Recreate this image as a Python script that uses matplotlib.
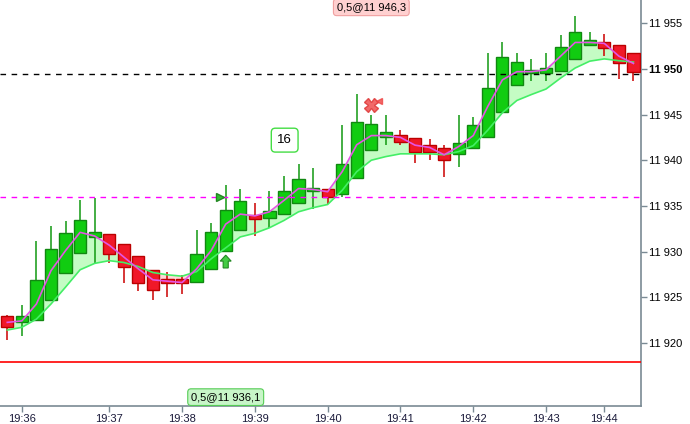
import matplotlib
matplotlib.use("Agg")
import matplotlib.pyplot as plt
import numpy as np

# candle data (one bar per index)
opens = [11922.9, 11922.3, 11922.5, 11924.7, 11927.6, 11929.8, 11931.6, 11931.9, 11930.8, 11929.55,
         11928.0, 11926.9, 11926.8, 11926.7, 11928.1, 11930.05, 11932.4, 11933.95, 11933.7, 11934.1,
         11935.3, 11936.6, 11936.8, 11936.3, 11938.0, 11941.1, 11942.5, 11942.8, 11942.4, 11941.65,
         11941.3, 11940.7, 11941.3, 11942.5, 11945.3, 11948.25, 11949.5, 11949.5, 11949.75, 11951.1,
         11952.6, 11952.9, 11952.65, 11951.7]
highs = [11923.1, 11924.1, 11931.1, 11932.8, 11933.3, 11935.6, 11935.9, 11931.9, 11930.8, 11929.55,
         11928.0, 11927.8, 11927.4, 11932.4, 11933.1, 11937.3, 11936.8, 11935.3, 11936.6, 11938.3,
         11939.6, 11939.2, 11936.8, 11943.9, 11947.2, 11945.0, 11945.0, 11943.3, 11942.4, 11942.3,
         11941.7, 11944.9, 11944.7, 11951.7, 11952.9, 11951.7, 11951.1, 11951.7, 11953.7, 11955.8,
         11954.0, 11953.8, 11952.65, 11951.7]
lows = [11920.3, 11920.7, 11922.5, 11924.7, 11927.6, 11929.8, 11928.6, 11928.7, 11926.5, 11925.65,
        11924.7, 11925.0, 11925.4, 11926.7, 11928.1, 11930.05, 11932.4, 11931.7, 11932.6, 11934.1,
        11935.3, 11934.7, 11935.2, 11936.0, 11938.0, 11941.1, 11941.7, 11941.7, 11939.7, 11940.0,
        11938.2, 11939.3, 11941.3, 11942.5, 11945.3, 11948.25, 11948.65, 11948.65, 11949.75, 11951.1,
        11952.6, 11951.4, 11948.9, 11948.65]
closes = [11921.7, 11922.9, 11926.9, 11930.3, 11932.0, 11933.5, 11932.1, 11929.7, 11928.3, 11926.5,
          11925.8, 11926.6, 11926.6, 11929.7, 11932.1, 11934.6, 11935.5, 11933.55, 11934.4, 11936.6,
          11937.9, 11937.0, 11936.0, 11939.6, 11944.2, 11944.0, 11943.1, 11942.0, 11940.9, 11940.95,
          11940.0, 11941.9, 11943.85, 11947.9, 11951.3, 11950.8, 11949.7, 11950.1, 11952.4, 11954.0,
          11953.2, 11952.3, 11950.7, 11949.7]

# moving averages
fast_ma = [11922.24, 11922.4, 11924.25, 11927.9, 11930.1, 11932.1, 11931.7, 11930.7, 11929.4, 11928.1,
           11926.9, 11926.75, 11926.6, 11928.1, 11930.1, 11933.0, 11934.1, 11933.9, 11934.35, 11935.6,
           11936.9, 11936.8, 11936.55, 11938.75, 11941.7, 11942.7, 11942.7, 11942.5, 11941.65, 11941.4,
           11940.6, 11941.5, 11942.7, 11945.9, 11948.8, 11949.7, 11949.7, 11949.9, 11951.4, 11952.9,
           11952.9, 11952.8, 11951.4, 11950.6]
slow_ma = [11921.4, 11921.7, 11922.6, 11924.25, 11926.1, 11928.0, 11928.7, 11929.0, 11928.8, 11928.35,
           11927.7, 11927.45, 11927.3, 11927.8, 11929.2, 11930.4, 11931.6, 11932.0, 11932.6, 11933.4,
           11934.35, 11934.8, 11935.15, 11936.7, 11938.75, 11940.0, 11940.4, 11940.7, 11940.7, 11940.7,
           11940.6, 11940.95, 11941.6, 11943.3, 11945.2, 11946.55, 11947.2, 11947.8, 11949.0, 11950.1,
           11950.85, 11951.1, 11950.9, 11950.75]

# time axis labels (placed at the first bar of each minute)
time_tick_idx = [1, 7, 12, 17, 22, 27, 32, 37, 41]
time_tick_labels = ['19:36', '19:37', '19:38', '19:39', '19:40', '19:41', '19:42', '19:43', '19:44']
price_ticks = [11920, 11925, 11930, 11935, 11940, 11945, 11950, 11955]

# levels and trades
last_price_level = 11949.45
entry_level = 11935.94
stop_level = 11917.87
buy_idx, buy_price, buy_label = 15, 11936.1, '0,5@11 936,1'
sell_idx, sell_price, sell_label = 25, 11946.3, '0,5@11 946,3'

plt.rcParams['font.family'] = ['Liberation Sans', 'DejaVu Sans']

fig = plt.figure(figsize=(6.9, 4.24), dpi=100)
ax = fig.add_axes([0, 18 / 424, 641 / 690, 406 / 424])

x = np.arange(len(opens))
o = np.array(opens)
c = np.array(closes)
h = np.array(highs)
l = np.array(lows)
up = c >= o

# fill between the two averages
fm = np.array(fast_ma)
sm = np.array(slow_ma)
ax.fill_between(x, fm, sm, where=fm >= sm, interpolate=True, color='#c4fcc4', lw=0, zorder=1)
ax.fill_between(x, fm, sm, where=fm < sm, interpolate=True, color='#ffd8d8', lw=0, zorder=1)

# wicks
ax.vlines(x[up], l[up], h[up], color='#119911', lw=1.1, zorder=2)
ax.vlines(x[~up], l[~up], h[~up], color='#cc0000', lw=1.1, zorder=2)

# bodies
bottoms = np.minimum(o, c)
heights = np.maximum(np.abs(c - o), 0.35)
ax.bar(x[up], heights[up], bottom=bottoms[up], width=0.84, color='#11cc11',
       edgecolor='#118811', lw=1.0, zorder=3)
ax.bar(x[~up], heights[~up], bottom=bottoms[~up], width=0.84, color='#f01828',
       edgecolor='#bb0000', lw=1.0, zorder=3)

# averages
ax.plot(x, sm, color='#44ee66', lw=1.2, zorder=4)
ax.plot(x, fm, color='#e455e4', lw=1.2, zorder=5)

# horizontal levels
ax.axhline(last_price_level, color='black', lw=1, ls=(0, (4, 4)), zorder=4)
ax.axhline(entry_level, color='#ff00ff', lw=1, ls=(0, (4, 4)), zorder=4)
ax.axhline(stop_level, color='#ff0000', lw=1.2, zorder=4)

# trade markers
ax.plot(buy_idx - 0.4, entry_level, marker='>', ms=6, color='#33bb33', mec='#228822', zorder=6)
ax.arrow(buy_idx, 11928.2, 0, 0.75, width=0.35, head_width=0.75, head_length=0.65,
         length_includes_head=False, color='#44cc44', ec='#228822', lw=0.8, zorder=6)
ax.plot(sell_idx, 11946.1, marker='X', ms=10, color='#ee4444', alpha=0.8, mec='#dd3333', zorder=6)
ax.plot(sell_idx + 0.55, 11946.45, marker='<', ms=5, color='#ee4444', alpha=0.8, zorder=6)

# label boxes
ax.text(buy_idx, 11914.05, buy_label, ha='center', va='center', fontsize=8, color='black',
        bbox=dict(boxstyle='round,pad=0.3,rounding_size=0.3', fc='#c8f5c8', ec='#55cc55', lw=0.8),
        zorder=7)
ax.text(sell_idx, 11956.75, sell_label, ha='center', va='center', fontsize=8, color='black',
        bbox=dict(boxstyle='round,pad=0.3,rounding_size=0.3', fc='#ffd0d0', ec='#f0a0a0', lw=0.8),
        zorder=7)
ax.text(19.05, 11942.2, '16', ha='center', va='center', fontsize=9.5, color='black',
        bbox=dict(boxstyle='round,pad=0.45,rounding_size=0.3', fc='white', ec='#44dd44', lw=1.0),
        zorder=7)

# axes
ax.set_xlim(-0.5, 43.52)
ax.set_ylim(11913.08, 11957.55)
for side in ['top', 'left']:
    ax.spines[side].set_visible(False)
for side in ['right', 'bottom']:
    ax.spines[side].set_color('#7a8a94')
    ax.spines[side].set_linewidth(1.2)

ax.yaxis.tick_right()
ax.set_yticks(price_ticks)
ax.set_yticklabels([f'{p:,}'.replace(',', ' ') for p in price_ticks])
ax.tick_params(axis='y', length=4, width=1, color='#7a8a94', labelsize=8, pad=2, labelcolor='black')
for lab in ax.get_yticklabels():
    if lab.get_text() == '11 950':
        lab.set_fontweight('bold')

ax.set_xticks(time_tick_idx)
ax.set_xticklabels(time_tick_labels)
ax.tick_params(axis='x', length=4, width=1, color='#7a8a94', labelsize=8, pad=2, labelcolor='#1a1a3a')

fig.savefig('out.png', dpi=100)
